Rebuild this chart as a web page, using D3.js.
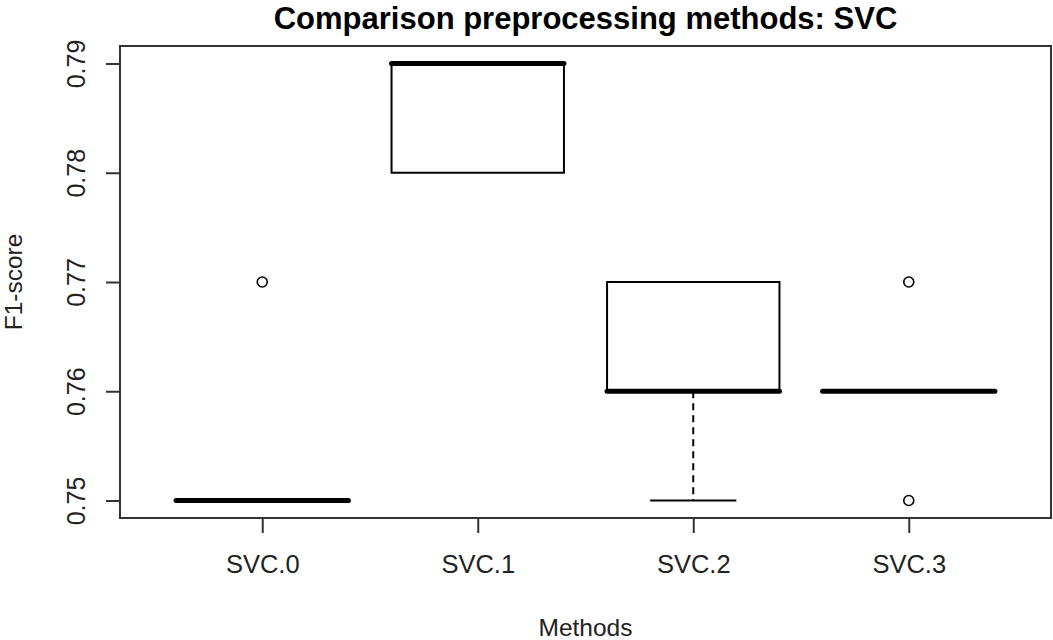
<!DOCTYPE html>
<html>
<head>
<meta charset="utf-8">
<script src="https://cdn.jsdelivr.net/npm/d3@7"></script>
<style>
  html, body { margin: 0; padding: 0; background: #fff; }
  svg { display: block; font-family: "Liberation Sans", Arial, sans-serif; }
</style>
</head>
<body>
<svg id="chart" width="1053" height="640"></svg>
<script>
// Five-number summaries per preprocessing method (F1-score)
const methods = ["SVC.0", "SVC.1", "SVC.2", "SVC.3"];
const lowerWhisker = [0.75, 0.78, 0.75, 0.76];
const q1 = [0.75, 0.78, 0.76, 0.76];
const median = [0.75, 0.79, 0.76, 0.76];
const q3 = [0.75, 0.79, 0.77, 0.76];
const upperWhisker = [0.75, 0.79, 0.77, 0.76];
const outliers = [[0.77], [], [], [0.77, 0.75]];
const yTicks = [0.75, 0.76, 0.77, 0.78, 0.79];

const titleText = "Comparison preprocessing methods: SVC";
const xTitle = "Methods";
const yTitle = "F1-score";

const svg = d3.select("#chart");
const plot = { left: 120, right: 1051, top: 46, bottom: 518 };

// Box positions 1..n, padded half a slot plus 4% like base graphics
const n = methods.length;
const xPad = n * 0.04;
const x = d3.scaleLinear()
  .domain([0.5 - xPad, n + 0.5 + xPad])
  .range([plot.left, plot.right]);

const yMin = d3.min(yTicks), yMax = d3.max(yTicks);
const yPad = (yMax - yMin) * 0.04;
const y = d3.scaleLinear()
  .domain([yMin - yPad, yMax + yPad])
  .range([plot.bottom, plot.top]);

const boxHalf = 0.4;     // half box width in slot units
const stapleHalf = 0.2;  // half staple width
const lw = 2;

const boxes = methods.map((m, i) => ({
  name: m, pos: i + 1,
  lo: lowerWhisker[i], q1: q1[i], med: median[i], q3: q3[i], hi: upperWhisker[i],
  out: outliers[i]
}));

const g = svg.append("g");

boxes.forEach(b => {
  // whiskers (dashed) with staples, only where they reach beyond the hinges
  [[b.q1, b.lo], [b.q3, b.hi]].forEach(([from, to]) => {
    if (from !== to) {
      g.append("line")
        .attr("x1", x(b.pos)).attr("x2", x(b.pos))
        .attr("y1", y(from)).attr("y2", y(to))
        .attr("stroke", "#000").attr("stroke-width", lw)
        .attr("stroke-dasharray", "7,5");
      g.append("line")
        .attr("x1", x(b.pos - stapleHalf)).attr("x2", x(b.pos + stapleHalf))
        .attr("y1", y(to)).attr("y2", y(to))
        .attr("stroke", "#000").attr("stroke-width", lw);
    }
  });
  // box
  g.append("rect")
    .attr("x", x(b.pos - boxHalf))
    .attr("y", y(b.q3))
    .attr("width", x(b.pos + boxHalf) - x(b.pos - boxHalf))
    .attr("height", y(b.q1) - y(b.q3))
    .attr("fill", "none").attr("stroke", "#000").attr("stroke-width", lw);
  // median
  g.append("line")
    .attr("x1", x(b.pos - boxHalf)).attr("x2", x(b.pos + boxHalf))
    .attr("y1", y(b.med)).attr("y2", y(b.med))
    .attr("stroke", "#000").attr("stroke-width", 5)
    .attr("stroke-linecap", "round");
  // outliers
  b.out.forEach(v => {
    g.append("circle")
      .attr("cx", x(b.pos)).attr("cy", y(v)).attr("r", 5)
      .attr("fill", "none").attr("stroke", "#000").attr("stroke-width", 1.6);
  });
});

// plot frame
svg.append("rect")
  .attr("x", plot.left).attr("y", plot.top)
  .attr("width", plot.right - plot.left).attr("height", plot.bottom - plot.top)
  .attr("fill", "none").attr("stroke", "#333").attr("stroke-width", 2);

// y axis
const yAxis = d3.axisLeft(y).tickValues(yTicks).tickSize(14).tickPadding(0)
  .tickFormat(d3.format(".2f"));
const ya = svg.append("g").attr("transform", `translate(${plot.left},0)`).call(yAxis);
ya.select(".domain")
  .attr("d", `M0,${y(yMin)}V${y(yMax)}`)
  .attr("stroke", "#333").attr("stroke-width", 2);
ya.selectAll(".tick line").attr("stroke", "#333").attr("stroke-width", 2);
ya.selectAll(".tick text")
  .attr("x", null).attr("dy", null)
  .attr("transform", "translate(-35,0) rotate(-90)")
  .attr("text-anchor", "middle")
  .attr("font-size", 25)
  .attr("fill", "#222");

// x axis
const xAxis = d3.axisBottom(x).tickValues(boxes.map(b => b.pos))
  .tickFormat((d, i) => methods[i]).tickSize(15).tickPadding(0);
const xa = svg.append("g").attr("transform", `translate(0,${plot.bottom})`).call(xAxis);
xa.select(".domain")
  .attr("d", `M${x(1)},0H${x(n)}`)
  .attr("stroke", "#333").attr("stroke-width", 2);
xa.selectAll(".tick line").attr("stroke", "#333").attr("stroke-width", 2);
xa.selectAll(".tick text")
  .attr("y", 55).attr("dy", null)
  .attr("font-size", 25.5)
  .attr("fill", "#222");

// titles
const cx = (plot.left + plot.right) / 2;
svg.append("text")
  .attr("x", cx).attr("y", 28.5)
  .attr("text-anchor", "middle")
  .attr("font-size", 31).attr("font-weight", "bold")
  .attr("fill", "#000")
  .text(titleText);

svg.append("text")
  .attr("x", cx).attr("y", 636)
  .attr("text-anchor", "middle")
  .attr("font-size", 24.5).attr("fill", "#222")
  .text(xTitle);

svg.append("text")
  .attr("transform", `translate(22,${(plot.top + plot.bottom) / 2}) rotate(-90)`)
  .attr("text-anchor", "middle")
  .attr("font-size", 24.5).attr("fill", "#222")
  .text(yTitle);
</script>
</body>
</html>
